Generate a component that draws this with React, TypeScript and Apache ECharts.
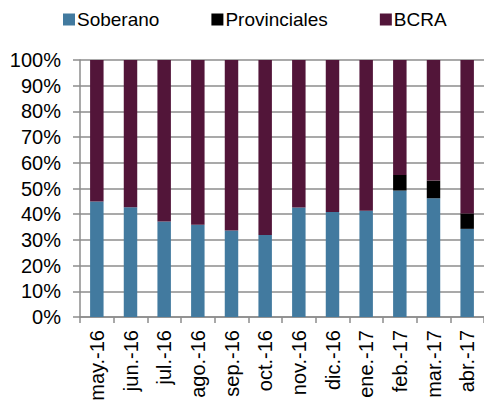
import React, { useEffect, useRef } from "react";
import * as echarts from "echarts";

const categories = ["may.-16", "jun.-16", "jul.-16", "ago.-16", "sep.-16", "oct.-16", "nov.-16", "dic.-16", "ene.-17", "feb.-17", "mar.-17", "abr.-17"];
const soberano = [44.9, 42.7, 37.2, 35.9, 33.7, 31.9, 42.6, 40.9, 41.3, 49.2, 46.2, 34.3];
const provinciales = [0, 0, 0, 0, 0, 0, 0, 0, 0, 6.1, 6.9, 6.0];
const bcra = soberano.map((s, i) => +(100 - s - provinciales[i]).toFixed(1));
const yTicks = [0, 10, 20, 30, 40, 50, 60, 70, 80, 90, 100];

export default function App() {
  const ref = useRef<HTMLDivElement>(null);
  useEffect(() => {
    if (!ref.current) return;
    const chart = echarts.init(ref.current, null, { renderer: "svg" });
    const font = "Liberation Sans, Arial, sans-serif";
    const gray = "#8c8c8c";
    chart.setOption({
      animation: false,
      textStyle: { fontFamily: font },
      legend: {
        top: 5,
        left: 58,
        itemWidth: 12,
        itemHeight: 12,
        itemGap: 52,
        icon: "rect",
        textStyle: { fontSize: 19, color: "#000", fontFamily: font, padding: [0, 0, 0, -3] },
        data: ["Soberano", "Provinciales", "BCRA"],
      },
      grid: { left: 80, right: 0, top: 60, bottom: 89, containLabel: false },
      xAxis: {
        type: "category",
        data: categories,
        axisLine: { lineStyle: { color: gray, width: 1.5 } },
        axisTick: { show: true, length: 6, lineStyle: { color: gray, width: 1.5 } },
        axisLabel: { rotate: 90, fontSize: 20, color: "#000", margin: 13, fontFamily: font },
      },
      yAxis: {
        type: "value",
        min: 0,
        max: 100,
        interval: 10,
        axisLine: { show: true, lineStyle: { color: gray, width: 1.5 } },
        axisTick: { show: true, length: 7, lineStyle: { color: gray, width: 1.5 } },
        splitLine: { lineStyle: { color: gray, width: 1.5 } },
        axisLabel: {
          fontSize: 20,
          color: "#000",
          margin: 19,
          fontFamily: font,
          formatter: (v: number) => (yTicks.includes(v) ? v + "%" : ""),
        },
      },
      series: [
        { name: "Soberano", type: "bar", stack: "t", data: soberano, barWidth: "40%", itemStyle: { color: "#427A9F" } },
        { name: "Provinciales", type: "bar", stack: "t", data: provinciales, barWidth: "40%", itemStyle: { color: "#000000" } },
        { name: "BCRA", type: "bar", stack: "t", data: bcra, barWidth: "40%", itemStyle: { color: "#521539" } },
      ],
    });
    return () => chart.dispose();
  }, []);
  return <div ref={ref} style={{ width: 484, height: 406, position: "absolute", left: 0, top: 0 }} />;
}
